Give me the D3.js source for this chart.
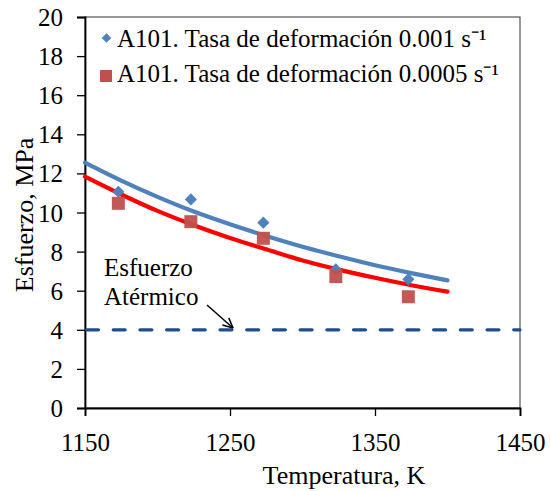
<!DOCTYPE html>
<html>
<head>
<meta charset="utf-8">
<script src="https://cdn.jsdelivr.net/npm/d3@7"></script>
<style>
  html, body { margin: 0; padding: 0; background: #fff; }
  svg { display: block; }
  text { font-family: "Liberation Serif", "Times New Roman", serif; fill: #000; }
</style>
</head>
<body>
<svg id="chart" width="550" height="491" font-family="Liberation Serif, serif"></svg>
<script>
// Measured flow stress (MPa) versus test temperature (K)
const temps = [1173, 1223, 1273, 1323, 1373];
const stressFast = [11.06, 10.67, 9.48, 7.09, 6.58];   // 0.001 s^-1
const stressSlow = [10.47, 9.53, 8.68, 6.72, 5.69];    // 0.0005 s^-1

// Fitted trend curves, sampled along temperature
const fitTemps = [1150, 1175, 1200, 1225, 1250, 1275, 1300, 1325, 1350, 1375, 1400];
const fitFast = [12.55, 11.63, 10.80, 10.05, 9.40, 8.80, 8.25, 7.76, 7.30, 6.90, 6.53];
const fitSlow = [11.83, 10.92, 10.08, 9.35, 8.70, 8.12, 7.55, 7.08, 6.66, 6.28, 5.95];

// Athermal stress level
const athermal = 4;

const xTicks = [1150, 1250, 1350, 1450];
const yTicks = [0, 2, 4, 6, 8, 10, 12, 14, 16, 18, 20];
const legendLabels = ["A101. Tasa de deformación 0.001 s⁻¹", "A101. Tasa de deformación 0.0005 s⁻¹"];

const svg = d3.select("#chart");
const m = { left: 85, right: 520, top: 17, bottom: 408 };

const x = d3.scaleLinear().domain([1150, 1450]).range([m.left, m.right]);
const y = d3.scaleLinear().domain([0, 20]).range([m.bottom, m.top]);

const blue = "#4F81BD", red = "#FF0000", sq = "#C0504D", dash = "#1F4E8C";

// plot frame
svg.append("rect")
  .attr("x", m.left).attr("y", m.top)
  .attr("width", m.right - m.left).attr("height", m.bottom - m.top)
  .attr("fill", "none").attr("stroke", "#333").attr("stroke-width", 1);

// axes
const xAxis = svg.append("g").attr("transform", `translate(0,${m.bottom})`)
  .call(d3.axisBottom(x).tickValues(xTicks).tickSize(8).tickFormat(d3.format("d")));
const yAxis = svg.append("g").attr("transform", `translate(${m.left},0)`)
  .call(d3.axisLeft(y).tickValues(yTicks).tickSize(8).tickFormat(d3.format("d")));
[xAxis, yAxis].forEach(g => {
  g.attr("font-family", "Liberation Serif, serif");
  g.select(".domain").attr("stroke", "#000").attr("stroke-width", 1.8);
  g.selectAll(".tick line").attr("stroke", "#000").attr("stroke-width", 1.3);
  g.selectAll(".tick text").style("font-family", "Liberation Serif, serif").style("font-size", "25px").attr("fill", "#000");
});
xAxis.selectAll(".tick text").attr("dy", "0").attr("y", 43);
yAxis.selectAll(".tick text").attr("x", -22).attr("dy", "0.34em");

// athermal stress dashed line
svg.append("line")
  .attr("x1", x(1150) + 1.5).attr("x2", x(1450))
  .attr("y1", y(athermal)).attr("y2", y(athermal))
  .attr("stroke", dash).attr("stroke-width", 3.2)
  .attr("stroke-linecap", "round")
  .attr("stroke-dasharray", "12,14.7");

// fitted curves
const line = d3.line().x(d => x(d[0])).y(d => y(d[1])).curve(d3.curveMonotoneX);
svg.append("path").datum(fitTemps.map((t, i) => [t, fitSlow[i]]))
  .attr("d", line).attr("fill", "none").attr("stroke", red).attr("stroke-width", 4.2).attr("stroke-linecap", "round");
svg.append("path").datum(fitTemps.map((t, i) => [t, fitFast[i]]))
  .attr("d", line).attr("fill", "none").attr("stroke", blue).attr("stroke-width", 4.2).attr("stroke-linecap", "round");

// markers
const diamond = d3.symbol().type(d3.symbolSquare).size(74);
svg.append("g").selectAll("path").data(temps.map((t, i) => [t, stressFast[i]])).join("path")
  .attr("d", diamond)
  .attr("transform", d => `translate(${x(d[0])},${y(d[1])}) rotate(45)`)
  .attr("fill", blue);
svg.append("g").selectAll("rect").data(temps.map((t, i) => [t, stressSlow[i]])).join("rect")
  .attr("x", d => x(d[0]) - 6.5).attr("y", d => y(d[1]) - 6.5)
  .attr("width", 13).attr("height", 13)
  .attr("fill", sq).attr("opacity", 0.95);

// legend
const leg = svg.append("g");
leg.append("path").attr("d", d3.symbol().type(d3.symbolSquare).size(46)())
  .attr("transform", "translate(106.5,38) rotate(45)").attr("fill", blue);
leg.append("rect").attr("x", 100).attr("y", 70).attr("width", 12).attr("height", 12).attr("fill", sq);
legendLabels.forEach((t, i) => {
  leg.append("text").attr("x", 117).attr("y", 47 + i * 35)
    .style("font-size", "25px").text(t);
});

// annotation
svg.append("text").attr("x", 104).attr("y", 276).style("font-size", "25px").text("Esfuerzo");
svg.append("text").attr("x", 104).attr("y", 305).style("font-size", "25px").text("Atérmico");
svg.append("line").attr("x1", 207).attr("y1", 305).attr("x2", 233).attr("y2", 328)
  .attr("stroke", "#000").attr("stroke-width", 1.5);
// open arrow head at the line end
const ang = Math.atan2(328 - 305, 233 - 207);
[-0.45, 0.45].forEach(a => {
  svg.append("line").attr("x1", 233).attr("y1", 328)
    .attr("x2", 233 - 11 * Math.cos(ang + a)).attr("y2", 328 - 11 * Math.sin(ang + a))
    .attr("stroke", "#000").attr("stroke-width", 1.5);
});

// axis titles
svg.append("text").attr("x", 344).attr("y", 484).attr("text-anchor", "middle")
  .style("font-size", "26px").text("Temperatura, K");
svg.append("text").attr("transform", "translate(33,215) rotate(-90)").attr("text-anchor", "middle")
  .style("font-size", "26px").text("Esfuerzo, MPa");
</script>
</body>
</html>
